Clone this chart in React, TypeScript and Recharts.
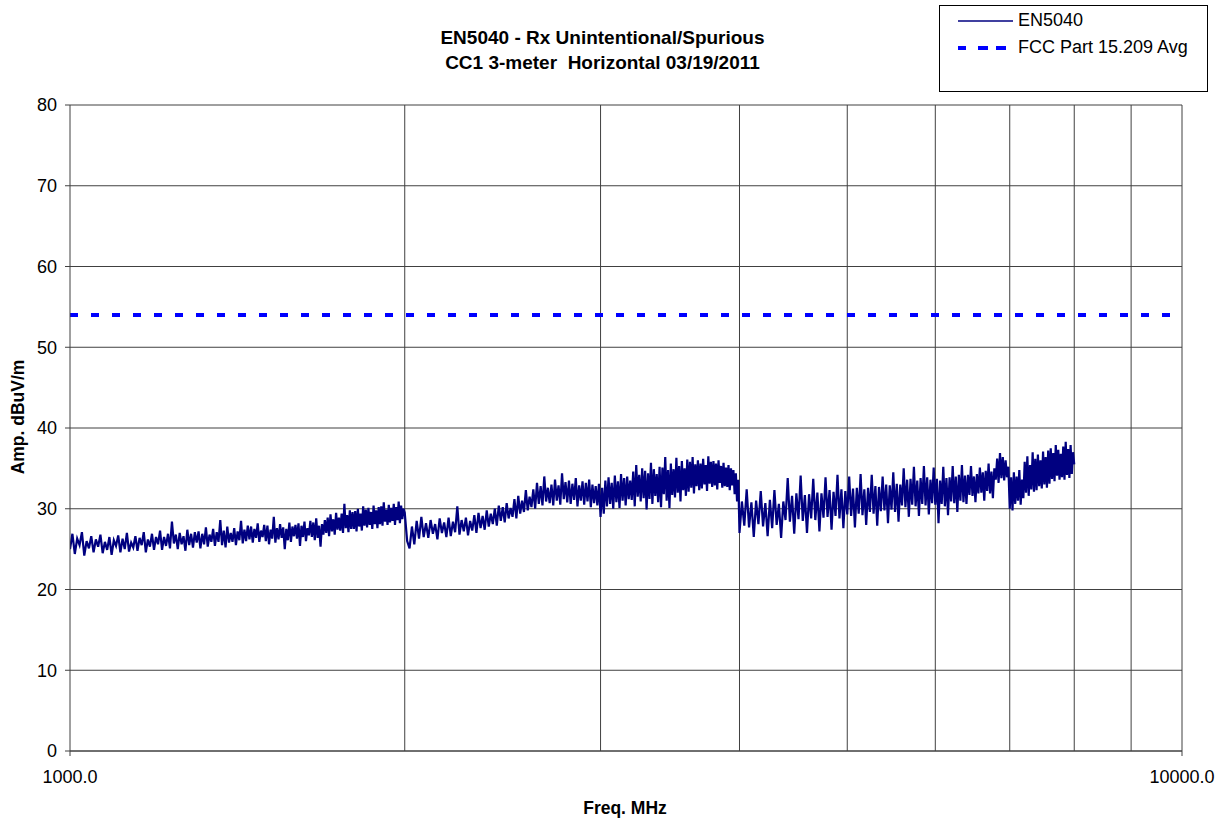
import React from "react";
import {
  ComposedChart,
  Line,
  XAxis,
  YAxis,
  CartesianGrid,
  ReferenceLine,
  Legend,
} from "recharts";

// Frequencies (MHz) of the measured sweep, three segments
const freqA = [
  1000, 1005, 1010, 1015, 1020, 1025, 1030, 1035, 1040, 1045,
  1050, 1055, 1060, 1065, 1070, 1075, 1080, 1085, 1090, 1095,
  1100, 1105, 1110, 1115, 1120, 1125, 1130, 1135, 1140, 1145,
  1150, 1155, 1160, 1165, 1170, 1175, 1180, 1185, 1190, 1195,
  1200, 1205, 1210, 1215, 1220, 1225, 1230, 1235, 1240, 1245,
  1250, 1255, 1260, 1265, 1270, 1275, 1280, 1285, 1290, 1295,
  1300, 1305, 1310, 1315, 1320, 1325, 1330, 1335, 1340, 1345,
  1350, 1355, 1360, 1365, 1370, 1375, 1380, 1385, 1390, 1395,
  1400, 1405, 1410, 1415, 1420, 1425, 1430, 1435, 1440, 1445,
  1450, 1455, 1460, 1465, 1470, 1475, 1480, 1485, 1490, 1495,
  1500, 1505, 1510, 1515, 1520, 1525, 1530, 1535, 1540, 1545,
  1550, 1555, 1560, 1565, 1570, 1575, 1580, 1585, 1590, 1595,
  1600, 1605, 1610, 1615, 1620, 1625, 1630, 1635, 1640, 1645,
  1650, 1655, 1660, 1665, 1670, 1675, 1680, 1685, 1690, 1695,
  1700, 1705, 1710, 1715, 1720, 1725, 1730, 1735, 1740, 1745,
  1750, 1755, 1760, 1765, 1770, 1775, 1780, 1785, 1790, 1795,
  1800, 1805, 1810, 1815, 1820, 1825, 1830, 1835, 1840, 1845,
  1850, 1855, 1860, 1865, 1870, 1875, 1880, 1885, 1890, 1895,
  1900, 1905, 1910, 1915, 1920, 1925, 1930, 1935, 1940, 1945,
  1950, 1955, 1960, 1965, 1970, 1975, 1980, 1985, 1990, 1995,
];
const ampA = [
  25.0, 26.9, 24.4, 26.3, 25.5, 27.1, 24.2, 26.0, 25.1, 26.6,
  24.6, 26.2, 25.3, 26.8, 24.5, 25.9, 24.9, 26.5, 24.3, 26.1,
  25.4, 26.7, 24.6, 26.3, 25.0, 27.0, 24.7, 25.8, 25.2, 26.6,
  24.8, 26.4, 25.5, 27.1, 24.6, 26.2, 25.3, 26.9, 24.9, 26.5,
  25.6, 27.3, 24.9, 26.5, 25.4, 26.9, 25.1, 28.4, 25.7, 26.8,
  25.0, 27.0, 25.6, 26.6, 24.8, 27.4, 25.5, 26.9, 25.2, 27.1,
  25.8, 27.2, 25.1, 26.9, 25.6, 27.7, 25.3, 26.8, 25.9, 27.5,
  25.4, 27.1, 25.9, 28.6, 25.5, 27.3, 25.2, 27.8, 25.8, 27.0,
  25.9, 27.6, 25.5, 27.2, 26.1, 28.5, 25.7, 27.4, 26.0, 27.9,
  26.2, 27.8, 25.8, 27.5, 26.4, 28.2, 25.9, 27.3, 26.5, 28.0,
  26.0, 27.9, 25.6, 27.4, 26.3, 29.0, 25.8, 27.6, 26.2, 28.1,
  26.4, 27.7, 25.0, 27.5, 26.1, 28.3, 25.9, 27.8, 26.6, 28.0,
  26.3, 28.2, 25.4, 27.9, 26.5, 28.4, 26.0, 27.6, 26.7, 28.5,
  26.5, 28.3, 26.1, 28.8, 26.4, 27.9, 25.3, 28.1, 26.8, 28.6,
  27.0, 28.9, 26.6, 29.3, 27.2, 28.7, 26.8, 29.5, 27.4, 28.9,
  27.3, 29.4, 27.0, 30.6, 27.6, 29.2, 27.1, 29.8, 27.5, 29.6,
  27.5, 29.7, 27.2, 30.0, 27.8, 29.4, 27.3, 30.3, 27.9, 29.9,
  27.7, 30.1, 28.0, 29.6, 27.5, 30.4, 28.1, 29.8, 27.6, 30.2,
  28.1, 30.3, 27.9, 30.8, 28.4, 29.9, 28.0, 30.5, 28.3, 30.1,
  28.5, 30.6, 28.0, 30.2, 28.6, 30.9, 28.2, 30.4, 28.7, 30.0,
];

const freqB = [
  2000, 2010, 2020, 2030, 2040, 2050, 2060, 2070, 2080, 2090,
  2100, 2110, 2120, 2130, 2140, 2150, 2160, 2170, 2180, 2190,
  2200, 2210, 2220, 2230, 2240, 2250, 2260, 2270, 2280, 2290,
  2300, 2310, 2320, 2330, 2340, 2350, 2360, 2370, 2380, 2390,
  2400, 2410, 2420, 2430, 2440, 2450, 2460, 2470, 2480, 2490,
  2500, 2510, 2520, 2530, 2540, 2550, 2560, 2570, 2580, 2590,
  2600, 2610, 2620, 2630, 2640, 2650, 2660, 2670, 2680, 2690,
  2700, 2710, 2720, 2730, 2740, 2750, 2760, 2770, 2780, 2790,
  2800, 2810, 2820, 2830, 2840, 2850, 2860, 2870, 2880, 2890,
  2900, 2910, 2920, 2930, 2940, 2950, 2960, 2970, 2980, 2990,
  3000, 3010, 3020, 3030, 3040, 3050, 3060, 3070, 3080, 3090,
  3100, 3110, 3120, 3130, 3140, 3150, 3160, 3170, 3180, 3190,
  3200, 3210, 3220, 3230, 3240, 3250, 3260, 3270, 3280, 3290,
  3300, 3310, 3320, 3330, 3340, 3350, 3360, 3370, 3380, 3390,
  3400, 3410, 3420, 3430, 3440, 3450, 3460, 3470, 3480, 3490,
  3500, 3510, 3520, 3530, 3540, 3550, 3560, 3570, 3580, 3590,
  3600, 3610, 3620, 3630, 3640, 3650, 3660, 3670, 3680, 3690,
  3700, 3710, 3720, 3730, 3740, 3750, 3760, 3770, 3780, 3790,
  3800, 3810, 3820, 3830, 3840, 3850, 3860, 3870, 3880, 3890,
  3900, 3910, 3920, 3930, 3940, 3950, 3960, 3970, 3980, 3990,
];
const ampB = [
  29.5, 26.0, 25.1, 27.8, 25.6, 28.5, 26.3, 29.0, 26.5, 28.2,
  26.4, 28.6, 26.9, 28.1, 26.2, 28.8, 27.0, 28.3, 26.5, 28.9,
  26.6, 28.4, 27.1, 30.3, 26.8, 28.6, 27.2, 28.9, 26.7, 28.5,
  27.3, 29.2, 27.0, 29.5, 27.6, 29.1, 27.4, 29.8, 27.8, 29.4,
  28.1, 30.0, 27.9, 30.4, 28.5, 30.2, 28.3, 30.7, 28.8, 30.1,
  29.0, 31.2, 28.8, 31.6, 29.4, 31.0, 29.6, 32.3, 29.8, 31.5,
  30.2, 32.4, 30.0, 33.2, 30.6, 32.8, 30.4, 34.0, 30.9, 32.6,
  30.7, 33.0, 30.4, 33.6, 31.0, 32.9, 30.5, 34.4, 31.2, 33.3,
  30.8, 33.5, 30.6, 33.1, 31.1, 33.8, 30.3, 32.9, 31.0, 33.4,
  30.5, 33.2, 30.9, 33.6, 30.2, 33.0, 30.7, 32.8, 30.4, 33.1,
  29.0, 32.6, 29.4, 33.5, 30.3, 33.9, 30.6, 33.2, 30.0, 34.1,
  30.8, 33.4, 30.1, 34.3, 31.0, 33.8, 30.4, 34.0, 31.2, 33.5,
  31.1, 34.6, 30.3, 35.4, 31.5, 34.2, 30.9, 35.0, 31.3, 34.7,
  29.9, 34.4, 31.2, 35.7, 30.6, 34.9, 31.6, 34.3, 30.8, 35.2,
  30.2, 35.1, 31.8, 36.4, 31.0, 34.8, 30.1, 35.6, 31.7, 34.9,
  31.4, 36.3, 32.0, 35.3, 30.9, 35.9, 32.3, 35.0, 31.6, 36.1,
  32.1, 35.8, 32.6, 36.4, 31.9, 35.5, 32.8, 36.0, 32.3, 35.6,
  32.5, 36.2, 33.0, 35.4, 32.2, 36.5, 33.1, 35.8, 32.7, 35.9,
  32.9, 35.6, 32.4, 36.0, 33.2, 35.3, 32.6, 35.7, 32.8, 35.1,
  32.7, 35.4, 32.3, 35.0, 32.9, 34.8, 31.8, 34.4, 30.9, 33.6,
];

const freqC = [
  4000, 4020, 4040, 4060, 4080, 4100, 4120, 4140, 4160, 4180,
  4200, 4220, 4240, 4260, 4280, 4300, 4320, 4340, 4360, 4380,
  4400, 4420, 4440, 4460, 4480, 4500, 4520, 4540, 4560, 4580,
  4600, 4620, 4640, 4660, 4680, 4700, 4720, 4740, 4760, 4780,
  4800, 4820, 4840, 4860, 4880, 4900, 4920, 4940, 4960, 4980,
  5000, 5020, 5040, 5060, 5080, 5100, 5120, 5140, 5160, 5180,
  5200, 5220, 5240, 5260, 5280, 5300, 5320, 5340, 5360, 5380,
  5400, 5420, 5440, 5460, 5480, 5500, 5520, 5540, 5560, 5580,
  5600, 5620, 5640, 5660, 5680, 5700, 5720, 5740, 5760, 5780,
  5800, 5820, 5840, 5860, 5880, 5900, 5920, 5940, 5960, 5980,
  6000, 6020, 6040, 6060, 6080, 6100, 6120, 6140, 6160, 6180,
  6200, 6220, 6240, 6260, 6280, 6300, 6320, 6340, 6360, 6380,
  6400, 6420, 6440, 6460, 6480, 6500, 6520, 6540, 6560, 6580,
  6600, 6620, 6640, 6660, 6680, 6700, 6720, 6740, 6760, 6780,
  6800, 6820, 6840, 6860, 6880, 6900, 6920, 6940, 6960, 6980,
  7000, 7020, 7040, 7060, 7080, 7100, 7120, 7140, 7160, 7180,
  7200, 7220, 7240, 7260, 7280, 7300, 7320, 7340, 7360, 7380,
  7400, 7420, 7440, 7460, 7480, 7500, 7520, 7540, 7560, 7580,
  7600, 7620, 7640, 7660, 7680, 7700, 7720, 7740, 7760, 7780,
  7800, 7820, 7840, 7860, 7880, 7900, 7920, 7940, 7960, 7980,
  8000,
];
const ampC = [
  27.0, 30.9, 27.9, 32.4, 27.7, 30.8, 26.5, 31.0, 28.1, 32.2,
  27.8, 30.7, 26.6, 31.1, 27.6, 32.3, 28.0, 30.6, 26.4, 30.9,
  28.6, 33.8, 28.4, 31.6, 26.9, 31.9, 28.7, 34.1, 28.5, 31.7,
  27.0, 31.8, 28.8, 33.7, 28.6, 32.0, 27.2, 31.9, 28.9, 33.9,
  29.0, 32.3, 27.4, 32.1, 29.1, 34.2, 28.8, 32.4, 27.6, 32.2,
  29.3, 34.0, 29.1, 32.5, 27.7, 32.6, 29.4, 34.3, 29.2, 32.4,
  28.0, 32.6, 29.6, 34.2, 29.4, 32.8, 27.9, 32.7, 29.7, 34.0,
  29.8, 33.0, 28.2, 32.9, 29.9, 34.5, 29.6, 33.1, 28.4, 33.0,
  30.4, 35.0, 30.2, 33.6, 29.0, 33.7, 30.5, 35.2, 30.3, 33.5,
  29.1, 33.8, 30.6, 35.3, 30.4, 33.9, 29.3, 33.6, 30.7, 35.1,
  30.5, 33.7, 28.2, 33.5, 30.6, 35.2, 30.3, 33.8, 29.2, 33.9,
  30.9, 35.3, 30.7, 34.0, 29.6, 34.2, 31.0, 35.4, 30.8, 34.1,
  30.6, 34.2, 31.7, 35.3, 31.6, 34.0, 30.8, 34.3, 31.9, 35.1,
  32.0, 34.5, 31.0, 34.7, 32.2, 35.6, 31.9, 34.6, 31.3, 35.0,
  33.6, 36.2, 33.2, 36.9, 33.8, 36.4, 33.5, 36.0, 33.9, 35.2,
  30.0, 33.9, 29.8, 34.5, 30.6, 34.0, 31.0, 34.8, 30.5, 33.6,
  31.3, 35.8, 32.0, 36.5, 31.6, 35.4, 32.4, 37.0, 32.1, 36.2,
  32.3, 36.7, 32.8, 36.0, 32.5, 37.1, 33.0, 36.4, 32.6, 37.2,
  33.1, 37.5, 33.7, 36.9, 33.4, 37.9, 34.1, 37.3, 33.6, 36.8,
  33.9, 37.7, 33.6, 38.3, 34.2, 37.4, 33.8, 37.9, 34.3, 37.0,
  35.5,
];

// FCC Part 15.209 average limit
const limitFreqs = [1000, 10000];
const limitValues = [54, 54];

// Axis ticks and gridlines
const yTicks = [0, 10, 20, 30, 40, 50, 60, 70, 80];
const xTicks = [1000, 10000];
const xGridLines = [2000, 3000, 4000, 5000, 6000, 7000, 8000, 9000, 10000];

const seriesNames = ["EN5040", "FCC Part 15.209 Avg"];
const titleLines = [
  "EN5040 - Rx Unintentional/Spurious",
  "CC1 3-meter  Horizontal 03/19/2011",
];

const measData = [
  ...freqA.map((f, i) => ({ f, amp: ampA[i] })),
  ...freqB.map((f, i) => ({ f, amp: ampB[i] })),
  ...freqC.map((f, i) => ({ f, amp: ampC[i] })),
];
const limitData = limitFreqs.map((f, i) => ({ f, lim: limitValues[i] }));

const FONT = '"Liberation Sans", Arial, Helvetica, sans-serif';
const GRID = "#404040";

const LegendBox = () => (
  <div
    style={{
      width: 267,
      height: 85,
      border: "1px solid #000",
      background: "#fff",
      fontFamily: FONT,
      fontSize: 18,
      color: "#000",
      position: "relative",
    }}
  >
    <svg width={60} height={60} style={{ position: "absolute", left: 17, top: 0 }}>
      <line x1={1} y1={15} x2={56} y2={15} stroke="#000080" strokeWidth={1.5} />
      <line
        x1={1}
        y1={42}
        x2={52}
        y2={42}
        stroke="#0000FF"
        strokeWidth={4}
        strokeDasharray="8 12 10 8 10 8"
      />
    </svg>
    <div style={{ position: "absolute", left: 78, top: 4, whiteSpace: "nowrap", lineHeight: "21px" }}>
      {seriesNames[0]}
    </div>
    <div style={{ position: "absolute", left: 78, top: 31, whiteSpace: "nowrap", lineHeight: "21px" }}>
      {seriesNames[1]}
    </div>
  </div>
);

export default function App() {
  return (
    <div
      style={{
        position: "absolute",
        left: 0,
        top: 0,
        width: 1225,
        height: 819,
        background: "#fff",
        fontFamily: FONT,
      }}
    >
      <div
        style={{
          position: "absolute",
          left: 0,
          width: 1205,
          top: 25,
          textAlign: "center",
          fontWeight: "bold",
          fontSize: 19,
          lineHeight: "25px",
          color: "#000",
          whiteSpace: "pre",
        }}
      >
        <div>{titleLines[0]}</div>
        <div>{titleLines[1]}</div>
      </div>
      <div
        style={{
          position: "absolute",
          left: 18,
          top: 417,
          transform: "translate(-50%, -50%) rotate(-90deg)",
          fontWeight: "bold",
          fontSize: 17.5,
          whiteSpace: "nowrap",
          color: "#000",
        }}
      >
        Amp. dBuV/m
      </div>
      <div
        style={{
          position: "absolute",
          left: 625,
          top: 808,
          transform: "translate(-50%, -50%)",
          fontWeight: "bold",
          fontSize: 17.5,
          whiteSpace: "nowrap",
          color: "#000",
        }}
      >
        Freq. MHz
      </div>
      <ComposedChart
        width={1225}
        height={819}
        data={measData}
        margin={{ top: 105, right: 43, bottom: 0, left: 0 }}
        style={{ position: "absolute", left: 0, top: 0 }}
      >
        <CartesianGrid horizontal vertical={false} stroke={GRID} strokeWidth={1} />
        {xGridLines.map((v) => (
          <ReferenceLine key={v} x={v} stroke={GRID} strokeWidth={1} />
        ))}
        <XAxis
          dataKey="f"
          type="number"
          scale="log"
          domain={[1000, 10000]}
          ticks={xTicks}
          allowDataOverflow
          height={68}
          tickSize={5}
          tickMargin={14}
          tickFormatter={(v: number) => v.toFixed(1)}
          tick={{ fontSize: 18, fill: "#000", fontFamily: FONT }}
          stroke={GRID}
          interval={0}
        />
        <YAxis
          type="number"
          domain={[0, 80]}
          ticks={yTicks}
          width={70}
          tickSize={5}
          tickMargin={8}
          tick={{ fontSize: 18, fill: "#000", fontFamily: FONT }}
          stroke={GRID}
          interval={0}
        />
        <Line
          name={seriesNames[0]}
          dataKey="amp"
          stroke="#000080"
          strokeWidth={2.2}
          dot={false}
          activeDot={false}
          type="linear"
          isAnimationActive={false}
        />
        <Line
          name={seriesNames[1]}
          data={limitData}
          dataKey="lim"
          stroke="#0000FF"
          strokeWidth={4}
          strokeDasharray="8 13"
          dot={false}
          activeDot={false}
          type="linear"
          isAnimationActive={false}
        />
        <Legend
          layout="vertical"
          align="center"
          verticalAlign="middle"
          content={() => <LegendBox />}
          wrapperStyle={{ position: "absolute", left: 939, top: 5, width: 269, height: 87 }}
        />
      </ComposedChart>
    </div>
  );
}
